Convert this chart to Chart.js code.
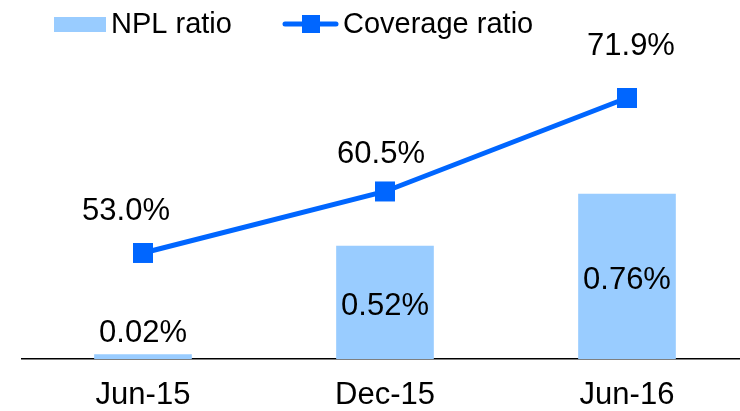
<!DOCTYPE html>
<html>
<head>
<meta charset="utf-8">
<title>NPL and coverage ratio</title>
<script src="https://cdn.jsdelivr.net/npm/chart.js@4/dist/chart.umd.min.js"></script>
<style>
  html, body { margin: 0; padding: 0; background: #fff; }
  #wrap { width: 740px; height: 411px; position: relative; }
</style>
</head>
<body>
<div id="wrap"><canvas id="c"></canvas></div>
<script>
// Reporting periods and the two ratios (in %)
const categories = ['Jun-15', 'Dec-15', 'Jun-16'];
const nplRatio = [0.02, 0.52, 0.76];
const coverageRatio = [53.0, 60.5, 71.9];
const seriesNames = ['NPL ratio', 'Coverage ratio'];

const FONT = '"Liberation Sans", Arial, Helvetica, sans-serif';
const BAR_COLOR = '#99CCFF';
const LINE_COLOR = '#0066FF';

// Per-point nudges for the coverage labels above the markers
const lineLabelDx = [-17, -4, 4];
const lineLabelDy = [-44, -40, -54];

// Value labels for bars and line points
const valueLabels = {
  id: 'valueLabels',
  afterDatasetsDraw(chart) {
    const ctx = chart.ctx;
    const size = 31;
    ctx.save();
    ctx.fillStyle = '#000';
    ctx.font = size + 'px ' + FONT;
    ctx.textAlign = 'center';
    ctx.textBaseline = 'alphabetic';
    const capOff = 0.358 * size;

    const barMeta = chart.getDatasetMeta(0);
    barMeta.data.forEach((el, i) => {
      const txt = nplRatio[i].toFixed(2) + '%';
      const h = el.base - el.y;
      let cy;
      if (h < 40) cy = el.y - 24;
      else cy = (el.y + el.base) / 2 + 1;
      ctx.fillText(txt, el.x, cy + capOff);
    });

    const lineMeta = chart.getDatasetMeta(1);
    lineMeta.data.forEach((el, i) => {
      const txt = coverageRatio[i].toFixed(1) + '%';
      ctx.fillText(txt, el.x + lineLabelDx[i], el.y + lineLabelDy[i] + capOff);
    });
    ctx.restore();
  }
};

// Legend drawn across the top: filled box for bars, line with square marker
const topLegend = {
  id: 'topLegend',
  afterDraw(chart) {
    const ctx = chart.ctx;
    const size = 29;
    ctx.save();
    ctx.font = size + 'px ' + FONT;
    ctx.textBaseline = 'alphabetic';
    ctx.textAlign = 'left';
    const baseY = 23 + 0.358 * size;

    ctx.fillStyle = BAR_COLOR;
    ctx.fillRect(54, 17, 52, 15);
    ctx.fillStyle = '#000';
    ctx.fillText(seriesNames[0], 111, baseY);

    ctx.strokeStyle = LINE_COLOR;
    ctx.lineWidth = 5;
    ctx.lineCap = 'round';
    ctx.beginPath();
    ctx.moveTo(285, 24);
    ctx.lineTo(336, 24);
    ctx.stroke();
    ctx.fillStyle = LINE_COLOR;
    ctx.fillRect(302, 15, 18, 18);
    ctx.fillStyle = '#000';
    ctx.fillText(seriesNames[1], 343, baseY);
    ctx.restore();
  }
};

new Chart(document.getElementById('c'), {
  type: 'bar',
  data: {
    datasets: [
      {
        type: 'bar',
        label: seriesNames[0],
        data: categories.map((c, i) => ({ x: i, y: nplRatio[i] })),
        backgroundColor: BAR_COLOR,
        borderWidth: 0,
        barThickness: 97,
        yAxisID: 'y',
        order: 2
      },
      {
        type: 'line',
        label: seriesNames[1],
        data: categories.map((c, i) => ({ x: i, y: coverageRatio[i] })),
        borderColor: LINE_COLOR,
        backgroundColor: LINE_COLOR,
        borderWidth: 5,
        tension: 0,
        pointStyle: 'rect',
        pointRadius: 14.14,
        pointHoverRadius: 14.14,
        pointBorderWidth: 0,
        pointBackgroundColor: LINE_COLOR,
        clip: false,
        yAxisID: 'y2',
        order: 1
      }
    ]
  },
  options: {
    responsive: true,
    maintainAspectRatio: false,
    animation: false,
    layout: { autoPadding: false, padding: { left: 22, top: 0, right: 0, bottom: 0 } },
    plugins: {
      legend: { display: false },
      tooltip: { enabled: false }
    },
    scales: {
      x: {
        type: 'linear',
        min: -0.5,
        max: 2.467,
        offset: false,
        afterBuildTicks(scale) {
          scale.ticks = categories.map((c, i) => ({ value: i }));
        },
        afterFit(scale) {
          scale.height = 52;
          scale.paddingLeft = 0;
          scale.paddingRight = 0;
        },
        grid: { display: false, drawTicks: false, offset: false },
        border: { display: true, color: '#000', width: 1.5 },
        ticks: {
          padding: 21,
          color: '#000',
          font: { family: FONT, size: 31, lineHeight: 1 },
          maxRotation: 0,
          autoSkip: false,
          callback: (v) => categories[v]
        }
      },
      y: {
        display: false,
        min: 0,
        max: 1.654
      },
      y2: {
        display: false,
        position: 'right',
        min: 40.07,
        max: 83.85
      }
    }
  },
  plugins: [valueLabels, topLegend]
});
</script>
</body>
</html>
